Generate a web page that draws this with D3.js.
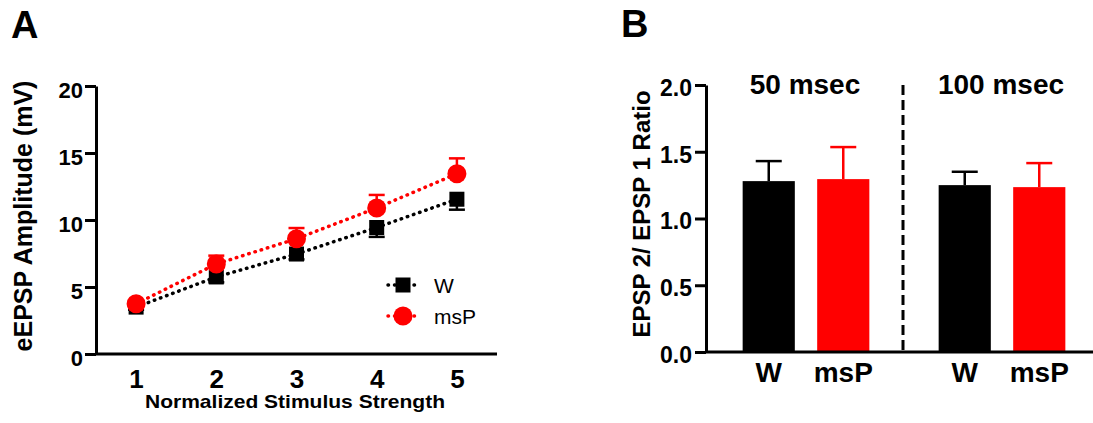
<!DOCTYPE html>
<html>
<head>
<meta charset="utf-8">
<script src="https://cdn.jsdelivr.net/npm/d3@7"></script>
<style>
  body { margin: 0; background: #fff; }
  svg { font-family: "Liberation Sans", Arial, sans-serif; display: block; }
  .axis { font-family: "Liberation Sans", Arial, sans-serif; }
  .axis path, .axis line { stroke: #000; stroke-width: 3; }
  .axis text { font-weight: bold; fill: #000; }
</style>
</head>
<body>
<svg width="1093" height="423"></svg>
<script>
// ---- panel A data ----
var strengths = [1, 2, 3, 4, 5];
var wMean = [3.5, 5.75, 7.46, 9.44, 11.55];
var wSem = [0.2, 0.4, 0.4, 0.7, 0.78];
var mspMean = [3.75, 6.72, 8.6, 10.9, 13.45];
var mspSem = [0.2, 0.62, 0.8, 0.97, 1.15];
var yTicksA = [0, 5, 10, 15, 20];

// ---- panel B data ----
var intervals = ["50 msec", "100 msec"];
var groups = ["W", "msP"];
var ratioW = [1.28, 1.25];
var ratioWSem = [0.15, 0.1];
var ratioMsp = [1.295, 1.235];
var ratioMspSem = [0.24, 0.18];
var yTicksB = [0.0, 0.5, 1.0, 1.5, 2.0];

var colors = { W: "#000000", msP: "#ff0000" };

var svg = d3.select("svg");

// panel letters
svg.append("text").attr("x", 11).attr("y", 38)
  .style("font-size", "38px").style("font-weight", "bold").text("A");
svg.append("text").attr("x", 621).attr("y", 37)
  .style("font-size", "38px").style("font-weight", "bold").text("B");

//////////////// Panel A
var xA = d3.scaleLinear().domain([0.5, 5.5]).range([96, 497]);
var yA = d3.scaleLinear().domain([0, 20]).range([354, 86]);

var yAxisA = svg.append("g").attr("class", "axis")
  .attr("transform", "translate(96,0)")
  .call(d3.axisLeft(yA).tickValues(yTicksA).tickSize(11).tickSizeOuter(0).tickPadding(2));
yAxisA.selectAll("text").style("font-size", "22px").attr("dy", "0.5em");

var xAxisA = svg.append("g").attr("class", "axis")
  .attr("transform", "translate(0,354)")
  .call(d3.axisBottom(xA).tickValues(strengths).tickFormat(d3.format("d"))
    .tickSize(0).tickSizeOuter(0).tickPadding(10));
xAxisA.selectAll("text").style("font-size", "26px").attr("dy", "0.92em");
xAxisA.select("path").attr("d", "M" + xA(0.5) + ",0H" + xA(5.5));

svg.append("text")
  .attr("transform", "translate(32,216) rotate(-90)")
  .attr("text-anchor", "middle")
  .style("font-size", "25px").style("font-weight", "bold")
  .text("eEPSP Amplitude (mV)");

svg.append("text")
  .attr("x", 295).attr("y", 408)
  .attr("text-anchor", "middle")
  .attr("textLength", 300).attr("lengthAdjust", "spacingAndGlyphs")
  .style("font-size", "18.5px").style("font-weight", "bold")
  .text("Normalized Stimulus Strength");

var seriesA = [
  { name: "W", mean: wMean, sem: wSem, dir: 1 },
  { name: "msP", mean: mspMean, sem: mspSem, dir: -1 }
];

var lineA = d3.line().x(d => xA(d.x)).y(d => yA(d.y));

seriesA.forEach(function(s) {
  var pts = strengths.map((x, i) => ({ x: x, y: s.mean[i], e: s.sem[i] }));
  var g = svg.append("g");
  g.append("path").datum(pts)
    .attr("d", lineA)
    .attr("fill", "none")
    .attr("stroke", colors[s.name])
    .attr("stroke-width", 3.5)
    .attr("stroke-linecap", "round")
    .attr("stroke-dasharray", "0.5,6");
  // error bars (W downwards, msP upwards)
  var eb = g.selectAll(".eb").data(pts).enter().append("g")
    .attr("stroke", colors[s.name]).attr("stroke-width", 2.5);
  eb.append("line")
    .attr("x1", d => xA(d.x)).attr("x2", d => xA(d.x))
    .attr("y1", d => yA(d.y)).attr("y2", d => yA(d.y - s.dir * d.e));
  eb.append("line")
    .attr("x1", d => xA(d.x) - 8).attr("x2", d => xA(d.x) + 8)
    .attr("y1", d => yA(d.y - s.dir * d.e)).attr("y2", d => yA(d.y - s.dir * d.e));
  if (s.name === "W") {
    g.selectAll(".m").data(pts).enter().append("rect")
      .attr("x", d => xA(d.x) - 7.5).attr("y", d => yA(d.y) - 7.5)
      .attr("width", 15).attr("height", 15).attr("fill", colors.W);
  } else {
    g.selectAll(".m").data(pts).enter().append("circle")
      .attr("cx", d => xA(d.x)).attr("cy", d => yA(d.y))
      .attr("r", 9.5).attr("fill", colors.msP);
  }
});

// legend
var legend = svg.append("g").attr("transform", "translate(403,0)");
[["W", 285], ["msP", 316]].forEach(function(l) {
  var lg = legend.append("g").attr("transform", "translate(0," + l[1] + ")");
  lg.append("line").attr("x1", -15).attr("x2", 12).attr("y1", 0).attr("y2", 0)
    .attr("stroke", colors[l[0]]).attr("stroke-width", 3.5)
    .attr("stroke-linecap", "round").attr("stroke-dasharray", "0.5,6");
  if (l[0] === "W") {
    lg.append("rect").attr("x", -7.5).attr("y", -7.5).attr("width", 15).attr("height", 15)
      .attr("fill", colors.W);
  } else {
    lg.append("circle").attr("r", 9.5).attr("fill", colors.msP);
  }
  lg.append("text").attr("x", 31).attr("y", 7.5)
    .style("font-size", "21px").text(l[0]);
});

//////////////// Panel B
var xB = d3.scaleBand().domain(intervals).range([708, 1100]);
var xInner = d3.scaleBand().domain(groups).range([0, xB.bandwidth()])
  .paddingInner(0.3).paddingOuter(0.465);
var yB = d3.scaleLinear().domain([0, 2]).range([352, 85]);

var barData = [];
intervals.forEach(function(iv, i) {
  barData.push({ iv: iv, g: "W", v: ratioW[i], e: ratioWSem[i] });
  barData.push({ iv: iv, g: "msP", v: ratioMsp[i], e: ratioMspSem[i] });
});

var bars = svg.append("g").selectAll("g").data(barData).enter().append("g");
bars.append("rect")
  .attr("x", d => xB(d.iv) + xInner(d.g))
  .attr("width", xInner.bandwidth())
  .attr("y", d => yB(d.v))
  .attr("height", d => yB(0) - yB(d.v))
  .attr("fill", d => colors[d.g]);
bars.append("line")
  .attr("x1", d => xB(d.iv) + xInner(d.g) + xInner.bandwidth() / 2)
  .attr("x2", d => xB(d.iv) + xInner(d.g) + xInner.bandwidth() / 2)
  .attr("y1", d => yB(d.v)).attr("y2", d => yB(d.v + d.e))
  .attr("stroke", d => colors[d.g]).attr("stroke-width", 2.5);
bars.append("line")
  .attr("x1", d => xB(d.iv) + xInner(d.g) + xInner.bandwidth() / 2 - 13)
  .attr("x2", d => xB(d.iv) + xInner(d.g) + xInner.bandwidth() / 2 + 13)
  .attr("y1", d => yB(d.v + d.e)).attr("y2", d => yB(d.v + d.e))
  .attr("stroke", d => colors[d.g]).attr("stroke-width", 2.5);

var yAxisB = svg.append("g").attr("class", "axis")
  .attr("transform", "translate(706,0)")
  .call(d3.axisLeft(yB).tickValues(yTicksB).tickFormat(d3.format(".1f"))
    .tickSize(11).tickSizeOuter(0).tickPadding(3));
yAxisB.selectAll("text").style("font-size", "23px").attr("dy", "0.45em");

var xAxisB = svg.append("g").attr("class", "axis")
  .attr("transform", "translate(0,352)");
xAxisB.append("line").attr("x1", 706).attr("x2", 1093);

// category labels under bars
barData.forEach(function(d) {
  svg.append("text")
    .attr("x", xB(d.iv) + xInner(d.g) + xInner.bandwidth() / 2)
    .attr("y", 382)
    .attr("text-anchor", "middle")
    .style("font-size", "28px").style("font-weight", "bold")
    .text(d.g);
});

// interval titles
intervals.forEach(function(iv) {
  svg.append("text")
    .attr("x", xB(iv) + xB.bandwidth() / 2 - 1)
    .attr("y", 94)
    .attr("text-anchor", "middle")
    .style("font-size", "28px").style("font-weight", "bold")
    .text(iv);
});

// dashed divider between intervals
svg.append("line")
  .attr("x1", xB(intervals[1]) - 1).attr("x2", xB(intervals[1]) - 1)
  .attr("y1", 85).attr("y2", 355)
  .attr("stroke", "#000").attr("stroke-width", 3)
  .attr("stroke-dasharray", "10,5");

svg.append("text")
  .attr("transform", "translate(650,214) rotate(-90)")
  .attr("text-anchor", "middle")
  .style("font-size", "24px").style("font-weight", "bold")
  .text("EPSP 2/ EPSP 1 Ratio");
</script>
</body>
</html>
